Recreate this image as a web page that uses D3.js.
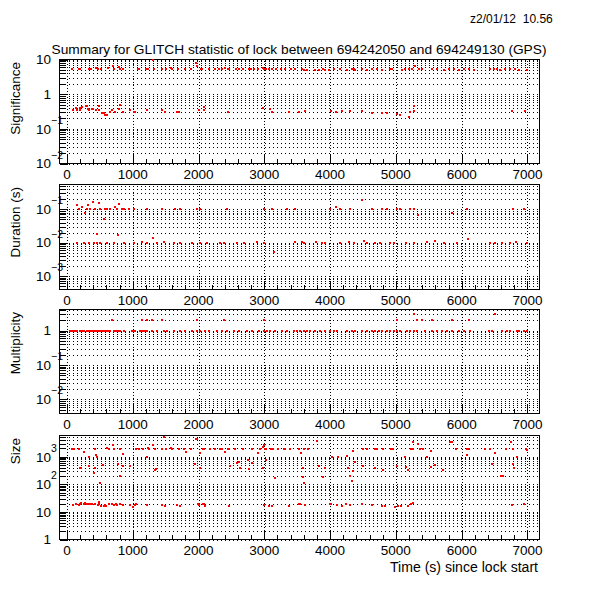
<!DOCTYPE html>
<html><head><meta charset="utf-8">
<script src="https://cdn.jsdelivr.net/npm/d3@7"></script>
<style>
body{margin:0;background:#fff}
svg{display:block}
text{font-family:"Liberation Sans",Arial,Helvetica,sans-serif;fill:#000}
</style>
</head><body>
<svg id="c" width="600" height="600"></svg>
<script>
// ---------------- data ----------------
const dateText = "z2/01/12  10.56";
const titleText = "Summary for GLITCH statistic of lock between 694242050 and 694249130 (GPS)";
const xTitle = "Time (s) since lock start";
const xTickValues = [0,1000,2000,3000,4000,5000,6000,7000];
const xTickLabels = ["0","1000","2000","3000","4000","5000","6000","7000"];
const xDomain = [-113, 7183];
const panelTitles = ["Significance","Duration (s)","Multiplicity","Size"];
const yDomains = [[0.01,10],[3.94e-4,0.555],[0.00386,4.14],[1,5870]];

const sigData = [
[76,5.15],[188,5.4],[203,5.15],[330,5.5],[365,5.15],[441,5.6],[466,5.15],[517,5.15],[619,5.75],[695,6.6],[710,5.15],[786,6.1],[811,5.26],[852,5.15],[1075,5.15],[1095,5.15],[1202,5.15],[1227,5.26],[1303,9.6],[1318,5.15],[1445,5.15],[1511,5.15],[1582,5.6],[1597,5.15],[1683,5.15],[1800,5.15],[1886,5.15],[1962,7.7],[1977,6.6],[2038,5.15],[2053,5.15],[2155,5.15],[2246,5.15],[2307,5.15],[2358,5.15],[2398,5.75],[2449,5.15],[2459,5.15],[2576,5.15],[2611,5.15],[2672,5.15],[2763,5.15],[2804,5.15],[2839,5.5],[2900,5.15],[2976,5.75],[3001,5.5],[3027,5.15],[3067,5.15],[3118,5.15],[3179,5.15],[3255,5.15],[3321,5.5],[3407,5.15],[3473,5.15],
[3571,5.15],[3597,4.92],[3647,4.92],[3774,4.92],[3825,4.92],[3890,5.15],[3926,4.92],[3977,4.92],[4053,5.15],[4154,5.15],[4255,4.92],[4331,5.15],[4357,5.37],[4382,4.92],[4483,5.15],[4559,4.92],[4635,5.15],[4711,5.15],[4787,4.92],[4914,5.15],[4939,5.37],[5091,4.92],[5142,5.15],[5192,5.37],[5243,5.15],[5294,6.4],[5344,5.37],[5395,5.15],[5547,5.15],[5623,5.15],[5724,4.92],[5800,5.15],[5876,5.15],[5952,4.92],[6028,5.37],[6104,5.15],[6180,4.92],[6434,5.15],[6484,5.37],[6535,5.15],[6586,4.92],[6662,5.15],[6738,5.37],[6813,5.15],[6864,4.92],[6991,4.92],
[86,0.346],[137,0.41],[152,0.361],[193,0.346],[203,0.41],[228,0.43],[289,0.47],[304,0.47],[319,0.369],[340,0.361],[380,0.378],[395,0.369],[446,0.346],[482,0.45],[492,0.361],[532,0.29],[558,0.277],[583,0.259],[608,0.248],[659,0.31],[684,0.346],[735,0.31],[786,0.378],[811,0.48],[852,0.31],[963,0.346],[1014,0.31],[1039,0.31],[1217,0.346],[1445,0.346],[1496,0.31],[1673,0.31],[1698,0.31],[2003,0.346],[2079,0.43],[2089,0.346],[2449,0.31],[2976,0.386],[3093,0.369],[3118,0.31],[3372,0.30],[3534,0.31],
[3622,0.332],[4012,0.324],[4093,0.297],[4179,0.317],[4296,0.332],[4483,0.332],[4635,0.29],[4787,0.29],[4863,0.278],[5015,0.266],[5066,0.249],[5192,0.213],[5218,0.304],[5268,0.45],[5278,0.332],[6763,0.317],[6966,0.332]
];

const durData = [
[152,0.132],[177,0.1],[228,0.12],[279,0.076],[304,0.105],[314,0.132],[355,0.1],[395,0.17],[431,0.1],[456,0.018],[481,0.151],[507,0.1],[557,0.05],[583,0.1],[608,0.1],[659,0.1],[735,0.12],[760,0.1],[770,0.017],[785,0.144],[836,0.1],[861,0.105],[937,0.1],[1013,0.1],[1216,0.1],[1444,0.105],[1646,0.1],[1722,0.1],[1976,0.1],[2026,0.105],[2432,0.1],[2989,0.1],[3116,0.1],[3344,0.1],[3470,0.105],
[152,0.01],[253,0.01],[329,0.01],[405,0.01],[456,0.01],[507,0.01],[608,0.01],[709,0.01],[861,0.01],[1013,0.01],[1140,0.0104],[1216,0.01],[1307,0.0134],[1368,0.01],[1469,0.0107],[1621,0.01],[1722,0.01],[1900,0.01],[2026,0.01],[2128,0.01],[2330,0.01],[2381,0.01],[2584,0.01],[2685,0.01],[2888,0.0104],[2989,0.01],[3141,0.0054],[3470,0.0107],
[3992,0.105],[4093,0.115],[4154,0.1],[4296,0.1],[4483,0.19],[4635,0.1],[4787,0.1],[4863,0.1],[5015,0.105],[5066,0.1],[5208,0.1],[5268,0.105],[5329,0.069],[5851,0.076],[6079,0.1],[6773,0.1],[6950,0.1],
[3571,0.0104],[3597,0.01],[3789,0.0107],[3875,0.0095],[3926,0.01],[4144,0.01],[4281,0.0104],[4357,0.01],[4509,0.0115],[4559,0.01],[4686,0.01],[4762,0.01],[4914,0.01],[4964,0.01],[5157,0.0095],[5268,0.01],[5471,0.0104],[5588,0.0115],[5724,0.01],[5927,0.01],[6089,0.0132],[6424,0.01],[6510,0.01],[6611,0.0095],[6738,0.01],[6829,0.0104],[6991,0.01]
];

const multData = [
[51,1],[76,1],[101,1],[127,1],[152,1],[203,1],[228,1],[253,1],[304,1],[329,1],[355,1],[380,1],[405,1],[431,1],[456,1],[481,1],[507,1],[532,1],[557,1],[583,1],[608,1],[633,1],[659,1],[709,1],[735,1],[760,1],[785,1],[811,1],[861,1],[988,1],[1013,1],[1038,1],[1115,1],[1140,1],[1165,1],[1190,1],[1216,1],[1292,1],[1368,1],[1469,1],[1520,1],[1621,1],[1722,1],[1798,1],[1900,1],[1976,1],[2026,1],[2102,1],[2153,1],[2280,1],[2356,1],[2432,1],[2533,1],[2609,1],[2736,1],[2812,1],[2913,1],[2989,1],[3040,1],[3090,1],[3166,1],[3268,1],[3344,1],[3445,1],[3496,1],
[3546,1],[3597,1],[3647,1],[3698,1],[3774,1],[3850,1],[3926,1],[4002,1],[4053,1],[4103,1],[4255,1],[4331,1],[4382,1],[4483,1],[4559,1],[4635,1],[4686,1],[4736,1],[4787,1],[4863,1],[4914,1],[4964,1],[5015,1],[5066,1],[5167,1],[5218,1],[5268,1],[5319,1],[5446,1],[5547,1],[5623,1],[5699,1],[5775,1],[5851,1],[5952,1],[6028,1],[6130,1],[6408,1],[6459,1],[6611,1],[6687,1],[6738,1],[6839,1],[6864,1],[6940,1],[6991,1],
[684,2],[1140,2],[1216,2],[1292,2],[1444,2],[1976,2],[2391,2],[2989,2],[2995,2.1],[5015,2],[5319,2],[5395,2],[5547,2],[5851,2],[6104,2],
[5268,3],[6500,3]
];

const sizeData = [
[76,1900],[101,1950],[188,1950],[254,1520],[431,1840],[608,2060],[634,1950],[700,2580],[710,1950],[811,1950],[852,1250],[1049,1950],[1090,1950],[1151,1950],[1227,2060],[1242,1950],[1308,2580],[1344,1840],[1445,1950],[1470,5320],[1506,1950],[1587,2060],[1597,1950],[1709,1950],[1775,1950],[1810,1520],[1891,1950],[1962,4260],[1977,4260],[2028,1400],[2063,1950],[2089,1950],[2180,1950],[2256,1950],[2332,1950],[2358,1840],[2408,1520],[2449,1950],[2459,1950],[2550,1950],[2672,1950],[2814,1950],[2900,1400],[2941,1950],[2976,2300],[3001,2650],[3017,1950],[3027,1950],[3103,1950],[3128,1950],[3204,1950],[3296,1950],[3321,1950],[3397,1950],[3534,1950],
[330,1000],[446,1150],[456,945],[340,471],[548,499],[193,377],[213,398],[406,263],[431,398],[776,542],[801,199],[852,471],[953,471],[1217,945],[1333,328],[1354,357],[2028,377],[1952,542],[2474,458],[2586,606],[2611,659],[2626,377],[2753,757],[2773,367],[2814,573],[2976,398],[3027,757],[3169,163],[507,114],
[86,17.7],[137,19.2],[177,17.2],[193,18.7],[218,20.3],[254,19.2],[279,21.4],[304,19.2],[330,19.2],[355,18.7],[380,18.7],[431,19.2],[472,17.7],[482,23.3],[492,19.2],[517,16.7],[558,16.2],[583,17.2],[598,16.7],[634,18.7],[684,19.2],[710,17.7],[745,19.2],[760,17.2],[801,19.2],[847,17.7],[963,17.2],[999,15.3],[1029,17.2],[1049,19.2],[1217,17.7],[1445,17.7],[1496,16.2],[1673,17.7],[1714,15.8],[1992,19.2],[2003,17.2],[2063,19.2],[2079,19.2],[2094,16.2],[2459,15.8],[2991,17.2],[3077,15.8],[3118,15.8],[3372,15.8],[3534,19.2],
[3556,1400],[3606,1950],[3657,1840],[3794,3800],[4351,1650],[4503,1950],[4554,1950],[4680,1950],[4706,1950],[4807,1950],[4933,1950],[4949,1950],[5237,1950],[5263,3500],[5263,1840],[5329,2880],[5364,1950],[5415,1950],[5541,1650],[5820,3500],[5855,3500],[5921,1950],[6088,1950],[6109,1950],[6088,1150],[6352,1840],[6428,1840],[6438,1840],[6514,1400],[6681,1840],[6757,3500],[6782,1840],[6985,1950],[6995,1750],
[3581,398],[3591,178],[3606,114],[3834,471],[3885,178],[3920,398],[4022,1000],[4123,1000],[4250,1060],[4275,398],[4300,199],[4326,131],[4351,310],[4376,659],[4503,458],[4690,398],[4807,328],[5020,458],[5146,945],[5161,410],[5177,328],[5476,1000],[5541,410],[5592,499],[5709,328],[6468,542],[6605,204],[6631,204],[6782,542],[6798,398],[6843,945],
[3540,19.2],[3626,17.2],[3996,19.2],[4011,19.2],[4098,18.1],[4174,16.7],[4239,19.2],[4300,18.1],[4478,19.2],[4630,18.1],[4782,16.7],[4842,15.8],[4994,14.5],[5025,15.8],[5075,15.8],[5187,15.8],[5237,18.7],[5263,20.9],[6772,17.2],[6950,19.2]
];

const panelData = [sigData, durData, multData, sizeData];

// ---------------- layout ----------------
const svg = d3.select("#c");
const L = 59.5, R = 539.5;
const frames = [[59.5,163.5],[184.5,289.5],[309.5,413.5],[435.5,539.5]];
const x = d3.scaleLinear().domain(xDomain).range([L, R]);
const FS = 13.5;

svg.append("text").attr("x", 470).attr("y", 23).attr("font-size", 12)
   .style("white-space","pre").text(dateText);
svg.append("text").attr("x", 51.5).attr("y", 54).attr("font-size", 13.5)
   .attr("textLength", 495).attr("lengthAdjust", "spacingAndGlyphs").text(titleText);
svg.append("text").attr("x", 390).attr("y", 572).attr("font-size", 14)
   .attr("textLength", 148).attr("lengthAdjust", "spacingAndGlyphs").text(xTitle);

frames.forEach((fr, i) => {
  const [top, bot] = fr;
  const y = d3.scaleLog().domain(yDomains[i]).range([bot, top]);
  const g = svg.append("g");
  const [lo, hi] = yDomains[i];
  const yt = [];
  for (let e = Math.floor(Math.log10(lo)); e <= Math.ceil(Math.log10(hi)); e++) {
    for (let k = 1; k <= 9; k++) {
      const v = k * Math.pow(10, e);
      if (v >= lo * 0.999 && v <= hi * 1.001) yt.push({v, k, e});
    }
  }
  // horizontal grid
  g.selectAll("line.hg").data(yt).join("line")
    .attr("x1", L + 1).attr("x2", R - 1)
    .attr("y1", d => Math.round(y(d.v)) + 0.5).attr("y2", d => Math.round(y(d.v)) + 0.5)
    .attr("stroke", "#000").attr("stroke-width", 1).attr("stroke-dasharray", "1,3")
    .attr("shape-rendering", "crispEdges");
  // vertical grid
  g.selectAll("line.vg").data(xTickValues).join("line")
    .attr("x1", d => Math.round(x(d)) + 0.5).attr("x2", d => Math.round(x(d)) + 0.5)
    .attr("y1", top + 1).attr("y2", bot - 1)
    .attr("stroke", "#000").attr("stroke-width", 1).attr("stroke-dasharray", "1,2")
    .attr("shape-rendering", "crispEdges");
  // y ticks
  g.selectAll("line.yt").data(yt).join("line")
    .attr("x1", L).attr("x2", d => L + (d.k === 1 ? 8 : 5))
    .attr("y1", d => Math.round(y(d.v)) + 0.5).attr("y2", d => Math.round(y(d.v)) + 0.5)
    .attr("stroke", "#000").attr("shape-rendering", "crispEdges");
  // x ticks
  const minor = d3.range(0, 7001, 200);
  g.selectAll("line.xt").data(minor).join("line")
    .attr("x1", d => Math.round(x(d)) + 0.5).attr("x2", d => Math.round(x(d)) + 0.5)
    .attr("y1", bot).attr("y2", d => bot - (d % 1000 === 0 ? 9 : 5))
    .attr("stroke", "#000").attr("shape-rendering", "crispEdges");
  // frame
  g.append("rect").attr("x", L).attr("y", top).attr("width", R - L).attr("height", bot - top)
    .attr("fill", "none").attr("stroke", "#000").attr("stroke-width", 1)
    .attr("shape-rendering", "crispEdges");
  // x labels
  g.selectAll("text.xl").data(xTickValues).join("text")
    .attr("x", d => x(d)).attr("y", bot + 15.5).attr("font-size", FS)
    .attr("text-anchor", "middle").text((d, j) => xTickLabels[j]);
  // y labels
  yt.filter(d => d.k === 1).forEach(d => {
    const yy = y(d.v);
    if (d.e === 0 || d.e === 1) {
      g.append("text").attr("x", 51).attr("y", yy + 4.8).attr("font-size", FS)
        .attr("text-anchor", "end").text(d.e === 0 ? "1" : "10");
    } else {
      g.append("text").attr("x", 51).attr("y", yy + 4.8).attr("font-size", FS)
        .attr("text-anchor", "end").text("10");
      g.append("text").attr("x", 51).attr("y", yy - 5).attr("font-size", 10.5)
        .text(d.e < 0 ? "\u2212" + (-d.e) : String(d.e));
    }
  });
  // axis title
  g.append("text").attr("transform", `translate(19.5,${top + 2.5}) rotate(-90)`)
    .attr("font-size", FS).attr("text-anchor", "end").text(panelTitles[i]);
  // points
  g.selectAll("rect.pt").data(panelData[i]).join("rect")
    .attr("x", d => Math.round(x(d[0])) - 1).attr("y", d => Math.round(y(d[1])) - 1)
    .attr("width", 2).attr("height", 2).attr("fill", "#ff0000")
    .attr("shape-rendering", "crispEdges");
});
</script>
</body></html>
